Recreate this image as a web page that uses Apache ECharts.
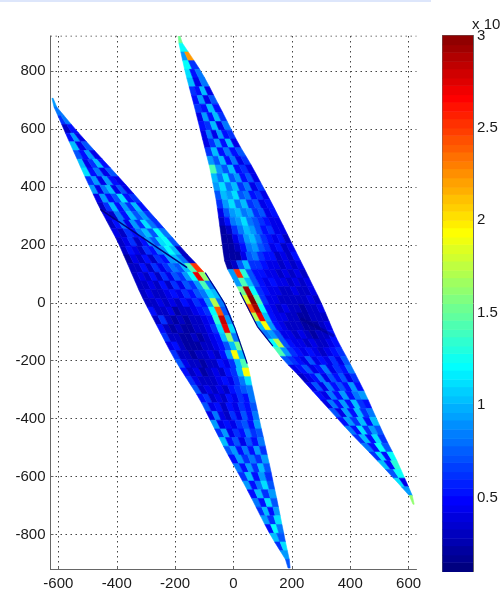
<!DOCTYPE html>
<html><head><meta charset="utf-8">
<style>html,body{margin:0;padding:0;background:#fff}#c{width:502px;height:592px;filter:blur(0.5px)}</style>
<script src="https://cdn.jsdelivr.net/npm/echarts@6/dist/echarts.min.js"></script>
</head><body><div id="c"></div>
<script>
// tick labels
const xTicks=[-600,-400,-200,0,200,400,600];
const yTicks=[-800,-600,-400,-200,0,200,400,600,800];
const cbTicks=[0.5,1,1.5,2,2.5,3];
const rowStep=30;
// lower-left lobe: row centres run down from this y
const leftTopY=690;
const leftFrom=[-622,-608,-595,-582,-569,-556,-542,-529,-516,-502,-488,-474,-460,-444,-428,-412,-396,-383,-370,-357,-344,-331,-318,-303,-288,-272,-257,-241,-226,-210,-193,-174,-155,-136,-117,-102,-87,-72,-57,-42,-27,-10,6,23,39,55,70,85,100,115,132,150,169,187];
const leftTo=[-618,-593,-568,-543,-517,-490,-463,-435,-408,-381,-354,-328,-302,-276,-249,-223,-196,-170,-143,-113,-89,-68,-48,-32,-16,-5,6,17,28,38,47,55,60,66,73,79,86,92,99,106,112,119,126,132,138,145,151,157,163,169,175,181,188,194];
// values in tenths of the colourbar unit
const leftValues=[[9],[8],[6,8],[3,5],[5,9,4],[10,4,7],[7,5,9,4],[10,4,6,10,5],[11,5,8,4,7],[6,9,4,9,5,4],
[9,4,8,10,4,7,4],[4,9,5,7,11,5,6],[3,6,10,5,9,6,10,5],[4,3,8,5,10,7,9,6],[3,5,8,4,9,6,11,8,6],[4,3,6,5,8,10,7,12,8],
[3,4,6,3,5,9,7,11,12,7],[3,5,4,3,6,5,8,9,12,10,3],[2,4,3,5,3,6,5,9,10,8,3],[3,3,5,3,6,4,6,8,7,10,14,25],
[3,4,3,5,3,6,4,7,6,9,12,27,16],[3,3,4,3,5,3,6,4,7,6,9,14,8],[3,4,3,3,4,5,4,6,5,7,8,11,10],[3,3,4,3,4,3,5,4,6,5,9,17,8],
[5,3,3,4,2,3,3,4,5,6,12,24,7],[3,6,3,2,3,2,3,3,4,5,13,28,9],[5,3,2,3,2,2,3,3,4,6,11,27,11],[6,3,3,2,2,3,2,3,4,5,10,16,8],
[4,5,3,2,2,2,3,3,4,5,7,10,15],[6,3,3,2,3,3,4,3,5,9,19,10],[7,4,3,3,2,3,3,5,4,6,10,14],[5,3,4,2,3,4,3,5,6,10,19],
[6,4,3,3,3,4,5,4,6,8,11],[7,3,4,3,4,3,5,6,7,8],[5,6,3,4,3,5,4,6,5,8],[7,4,5,3,5,4,6,5,7],[4,8,4,3,6,4,7,5,8],
[9,4,5,4,6,7,5,9],[6,9,4,6,5,8,6,7],[10,5,7,4,7,5,8],[7,9,5,8,5,9,6],[5,9,6,8,6,9],[8,5,9,6,10,7],[6,10,5,9,6],
[9,5,8,11,7],[5,10,6,9],[8,5,11,7],[6,10,5,9],[9,6,11],[5,12,8],[10,7],[6,11],[9],[7]];
// upper-right lobe
const rightTopY=910;
const rightFrom=[-190,-184,-177,-171,-164,-156,-148,-140,-132,-125,-117,-110,-102,-95,-87,-80,-74,-68,-62,-57,-53,-49,-45,-41,-37,-33,-28,-12,4,20,35,50,65,81,104,127,150,172,204,231,258,285,312,339,366,393,421,450,479,507,535,562,589,615];
const rightTo=[-185,-165,-145,-125,-107,-90,-75,-60,-44,-29,-14,1,16,34,52,69,85,101,117,133,148,163,178,192,207,222,237,252,266,281,296,309,322,334,347,361,378,394,410,425,440,455,468,481,495,508,522,537,553,567,580,593,606,619];
const rightValues=[[15],[12],[9,22],[12,6],[11,5,8],[10,4,8],[6,5,10,4],[5,9,4,7],[6,5,10,5],[4,9,5,10,6],[5,6,10,4,8],
[4,8,4,9,5,6],[4,6,9,5,10,4],[6,10,5,8,5,7],[9,7,10,5,8,4,6],[14,9,7,10,5,6,4],[10,8,11,7,9,5,7,4],[9,11,8,10,6,8,4,6],
[7,10,9,11,7,8,5,6,4],[6,9,11,8,10,6,7,4,5],[4,7,9,10,8,9,6,7,4,5],[3,5,8,9,11,8,7,6,5,4,4],[2,3,6,8,10,9,7,5,6,4,4],
[2,2,4,6,9,10,8,6,5,4,5,3],[2,2,3,5,8,9,7,6,4,5,3,4],[2,2,2,4,7,8,6,5,5,3,4,3,5],[2,3,7,10,6,6,5,4,4,3,4,3,4],
[9,25,13,7,5,5,4,4,3,4,3,4,3],[9,14,10,7,5,4,5,4,4,3,4,3,4],[15,29,12,6,5,4,4,3,3,4,3,3,4],[18,30,14,6,4,4,3,3,3,3,3,4,3],
[24,29,12,5,4,3,4,3,3,2,3,3,4],[17,27,10,5,4,4,3,3,2,2,3,3,3],[10,19,9,5,4,3,3,3,2,2,2,3,4],[8,9,7,4,4,3,4,3,2,3,3,5],
[12,17,7,5,4,4,3,4,3,3,4,5],[14,9,6,5,4,5,4,3,4,5,6],[7,6,5,4,7,4,5,4,6,4,7],[4,5,7,4,5,8,4,6,5,8],[3,4,5,8,4,7,5,7,4,6],
[4,7,4,8,5,7,5,9,5],[5,4,8,5,9,5,8,9],[4,8,5,9,5,10,6,5],[7,4,9,5,10,6,8],[5,9,6,10,5,10],[8,5,11,6,9,7],[6,10,5,11,6],
[8,5,12,7],[6,11,5,12],[10,5,13],[7,12],[11,4],[9],[16]];
// thin dark streaks and edges
const streakA=[[-456,322],[-159,121]];
const streakB=[[230,-55],[345,-115]];
const edgeA=[[-97,104],[-32,0],[6,-90],[47,-210]];
const edgeB=[[22,36],[82,-82],[135,-150]];
const topRule=[[-627,920],[627,920]];
// colourbar levels (bottom of each of 64 bands)
const cbLevels=[0.10,0.15,0.19,0.24,0.28,0.33,0.37,0.42,0.46,0.51,0.55,0.60,0.64,0.69,0.73,0.78,0.82,0.87,0.92,0.96,1.01,1.05,1.10,1.14,1.19,1.23,1.28,1.32,1.37,1.41,1.46,1.50,1.55,1.60,1.64,1.69,1.73,1.78,1.82,1.87,1.91,1.96,2.00,2.05,2.09,2.14,2.18,2.23,2.28,2.32,2.37,2.41,2.46,2.50,2.55,2.59,2.64,2.68,2.73,2.77,2.82,2.86,2.91,2.95];

const vMin=0.1,vMax=3;
function jet(v){
  const t=Math.max(0,Math.min(1,(v-vMin)/(vMax-vMin)));
  const c=x=>Math.round(255*Math.max(0,Math.min(1,1.5-Math.abs(4*t-x))));
  return 'rgb('+c(3)+','+c(2)+','+c(1)+')';
}
function cells(topY,from,to,vals){
  const out=[],last=from.length-1;
  for(let i=0;i<=last;i++){
    const a=Math.max(i-1,0),b=Math.min(i+1,last);
    const tf=(from[i]+from[a])/2,tt=(to[i]+to[a])/2,bf=(from[i]+from[b])/2,bt=(to[i]+to[b])/2;
    const y=topY-i*rowStep,n=vals[i].length;
    for(let j=0;j<n;j++){
      out.push([tf+(tt-tf)*j/n,tf+(tt-tf)*(j+1)/n,bf+(bt-bf)*j/n,bf+(bt-bf)*(j+1)/n,y+rowStep/2,y-rowStep/2,vals[i][j]/10]);
    }
  }
  return out;
}
function drawCell(params,api){
  const p=[api.coord([api.value(0),api.value(4)]),api.coord([api.value(1),api.value(4)]),api.coord([api.value(3),api.value(5)]),api.coord([api.value(2),api.value(5)])];
  const col=jet(api.value(6));
  return {type:'polygon',shape:{points:p},style:{fill:col,stroke:col,lineWidth:0.6}};
}
function drawBand(params,api){
  const l=api.value(0),top=params.dataIndex<cbLevels.length-1?cbLevels[params.dataIndex+1]:vMax;
  const a=api.coord([0,top]),b=api.coord([1,l]);
  return {type:'rect',shape:{x:a[0],y:a[1],width:b[0]-a[0],height:b[1]-a[1]+0.5},style:{fill:jet(l)}};
}
const cellSeries=(name,d)=>({name,type:'custom',renderItem:drawCell,data:d,encode:{x:0,y:4},clip:true,silent:true,animation:false,z:3});
const lineS=(name,d,w,col,dash)=>({name,type:'line',data:d,symbol:'none',silent:true,animation:false,lineStyle:{width:w,color:col,type:dash||'solid'},z:4});
const ink='#1a1a1a',frame='#666',font='Liberation Sans';
const chart=echarts.init(document.getElementById('c'),null,{renderer:'canvas'});
chart.setOption({
  animation:false,backgroundColor:'#fff',
  graphic:[
    {type:'rect',shape:{x:0,y:0,width:431,height:2},style:{fill:'#dde6fb'},silent:true},
    {type:'text',x:472,y:17,style:{text:'x 10',font:'15px "Liberation Sans"',fill:ink},silent:true}
  ],
  grid:[{left:50.5,top:36,width:366,height:533.5},{left:442.5,top:35.5,width:30.5,height:536}],
  xAxis:[
   {gridIndex:0,type:'value',min:-627,max:627,axisLine:{onZero:false,lineStyle:{color:frame,width:1}},
    axisTick:{inside:true,length:3,customValues:xTicks,lineStyle:{color:frame}},
    axisLabel:{customValues:xTicks,color:ink,fontSize:15,fontFamily:font,margin:7,hideOverlap:false,showMinLabel:true,showMaxLabel:true},
    splitLine:{show:true,lineStyle:{color:'#444',type:[1.5,3.5],width:1}}},
   {gridIndex:1,type:'value',min:0,max:1,position:'bottom',axisLine:{onZero:false,lineStyle:{color:frame}},axisTick:{show:false},axisLabel:{show:false},splitLine:{show:false}},
   {gridIndex:1,type:'value',min:0,max:1,position:'top',axisLine:{onZero:false,lineStyle:{color:frame}},axisTick:{show:false},axisLabel:{show:false},splitLine:{show:false}}
  ],
  yAxis:[
   {gridIndex:0,type:'value',min:-920,max:920,axisLine:{onZero:false,lineStyle:{color:frame,width:1}},
    axisTick:{inside:true,length:3,customValues:yTicks,lineStyle:{color:frame}},
    axisLabel:{customValues:yTicks,color:ink,fontSize:15,fontFamily:font,margin:5},
    splitLine:{show:true,lineStyle:{color:'#444',type:[1.5,3.5],width:1}}},
   {gridIndex:1,type:'value',min:vMin,max:vMax,position:'right',axisLine:{onZero:false,lineStyle:{color:frame}},
    axisTick:{inside:true,length:3,customValues:cbTicks,lineStyle:{color:frame}},
    axisLabel:{customValues:cbTicks,color:ink,fontSize:15,fontFamily:font,margin:4,formatter:v=>String(v)},splitLine:{show:false}},
   {gridIndex:1,type:'value',min:vMin,max:vMax,position:'left',axisLine:{onZero:false,lineStyle:{color:frame}},
    axisTick:{inside:true,length:3,customValues:cbTicks,lineStyle:{color:frame}},axisLabel:{show:false},splitLine:{show:false}}
  ],
  series:[
    cellSeries('left lobe',cells(leftTopY,leftFrom,leftTo,leftValues)),
    cellSeries('right lobe',cells(rightTopY,rightFrom,rightTo,rightValues)),
    lineS('streak A',streakA,1.5,'#000080'),
    lineS('streak B',streakB,3,'rgba(0,0,130,0.5)'),
    lineS('edge A',edgeA,1.2,'#000090'),
    lineS('edge B',edgeB,1.2,'#000090'),
    lineS('top rule',topRule,1,'#444',[1.5,3.5]),
    {name:'colourbar',type:'custom',xAxisIndex:1,yAxisIndex:1,renderItem:drawBand,data:cbLevels.map(v=>[v]),encode:{y:0},silent:true,animation:false,clip:false,z:2}
  ]
});
</script></body></html>
